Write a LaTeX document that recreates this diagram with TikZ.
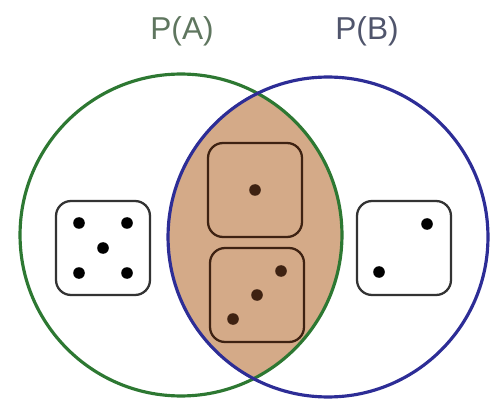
\documentclass[tikz,border=0pt]{standalone}
\usepackage{fontspec}
\setmainfont{Liberation Sans}
\usetikzlibrary{calc,positioning}

\definecolor{setA}{RGB}{45,120,50}
\definecolor{setB}{RGB}{45,45,150}
\definecolor{labelA}{RGB}{95,118,95}
\definecolor{labelB}{RGB}{80,85,108}
\definecolor{both}{RGB}{212,170,136}
\definecolor{dieBrown}{RGB}{62,34,18}

\tikzset{
    setcircle/.style={circle, draw, line width=1.8pt, minimum size=6.44cm, inner sep=0pt},
    die/.style={draw, rounded corners=0.3cm, line width=1.3pt, minimum size=1.88cm, inner sep=0pt},
    pip/.style={radius=5.8},
    setlabel/.style={font=\fontsize{18}{21}\selectfont}
}

\begin{document}
\begin{tikzpicture}[x=0.02cm, y=-0.02cm]
    \useasboundingbox (0, 0) rectangle (492, 401);

    % shaded part that both sets share
    \begin{scope}
        \clip (181, 235) circle[radius=161];
        \fill[both] (328, 237) circle[radius=160];
    \end{scope}

    \node[setcircle, setA] (A) at (181, 235) {};
    \node[setcircle, setB, minimum size=6.4cm] (B) at (328, 237) {};

    \node[setlabel, labelA] (labA) at (182, 31) {P(A)};
    \node[setlabel, labelB] (labB) at (367, 31) {P(B)};

    % five
    \begin{scope}[shift={(103, 248)}]
        \node[die, black!80] (five) at (0, 0) {};
        \foreach \px/\py in {-24/-25, 24/-25, 0/0, -24/25, 24/25} {
            \fill (\px, \py) circle[pip];
        }
    \end{scope}

    % one
    \begin{scope}[shift={(255, 190)}]
        \node[die, dieBrown] (one) at (0, 0) {};
        \fill[dieBrown] (0, 0) circle[pip];
    \end{scope}

    % three
    \begin{scope}[shift={(257, 295)}]
        \node[die, dieBrown] (three) at (0, 0) {};
        \foreach \i in {-1,...,1} {
            \fill[dieBrown] (-24 * \i, 24 * \i) circle[pip];
        }
    \end{scope}

    % two
    \begin{scope}[shift={(404, 248)}]
        \node[die, black!80] (two) at (0, 0) {};
        \fill (23, -24) circle[pip];
        \fill (-25, 24) circle[pip];
    \end{scope}
\end{tikzpicture}
\end{document}
